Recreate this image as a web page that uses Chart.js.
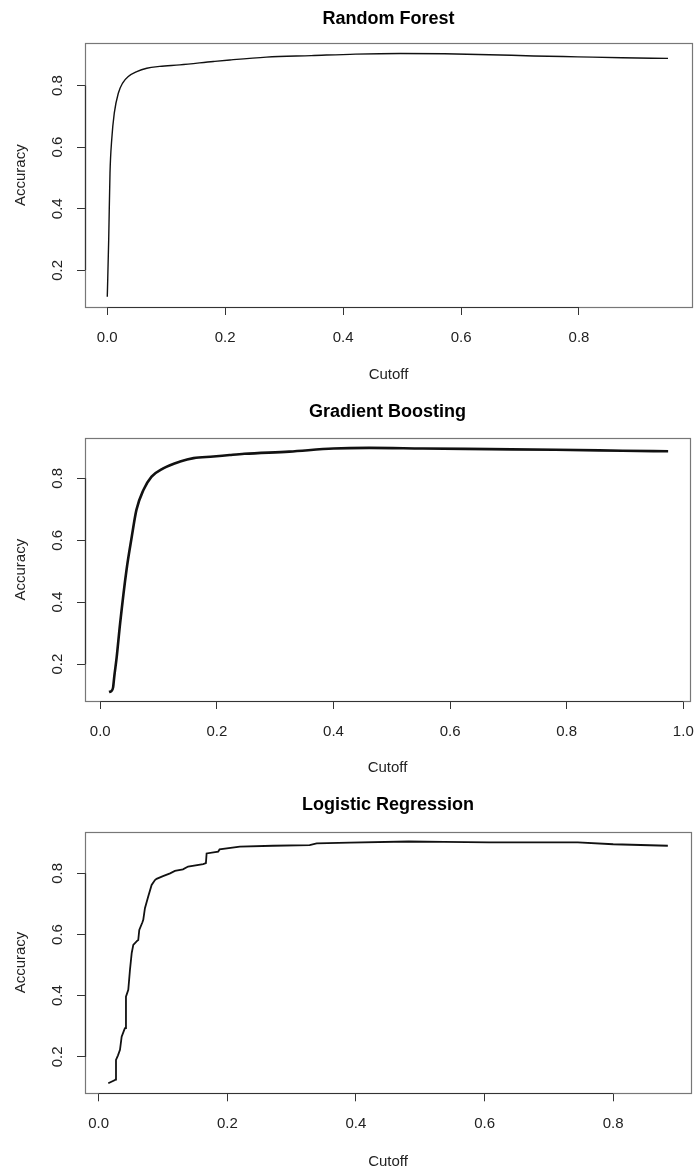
<!DOCTYPE html>
<html>
<head>
<meta charset="utf-8">
<script src="https://cdn.jsdelivr.net/npm/chart.js@4.4.1/dist/chart.umd.min.js"></script>
<style>
  body { margin: 0; background: #fff; }
  #wrap { position: relative; width: 698px; height: 1171px; }
  canvas { position: absolute; left: 0; }
</style>
</head>
<body>
<div id="wrap">
  <canvas id="rf" width="698" height="390" style="top:0px"></canvas>
  <canvas id="gb" width="698" height="390" style="top:390px"></canvas>
  <canvas id="lr" width="698" height="391" style="top:780px"></canvas>
</div>
<script>
// Random Forest
var rfCutoff   = [0.000, 0.0024, 0.0046, 0.0075, 0.0119, 0.0187, 0.026, 0.0356, 0.050, 0.067, 0.089, 0.123, 0.180, 0.208, 0.270, 0.346, 0.421, 0.497, 0.572, 0.648, 0.723, 0.798, 0.873, 0.951];
var rfAccuracy = [0.114, 0.300, 0.516, 0.624, 0.711, 0.775, 0.808, 0.829, 0.845, 0.856, 0.862, 0.867, 0.878, 0.883, 0.892, 0.897, 0.902, 0.904, 0.903, 0.900, 0.896, 0.893, 0.890, 0.888];

// Gradient Boosting
var gbCutoff   = [0.015, 0.019, 0.022, 0.024, 0.028, 0.034, 0.045, 0.054, 0.062, 0.074, 0.088, 0.108, 0.137, 0.160, 0.194, 0.222, 0.247, 0.324, 0.400, 0.461, 0.553, 0.667, 0.781, 0.896, 0.974];
var gbAccuracy = [0.110, 0.113, 0.125, 0.160, 0.220, 0.331, 0.504, 0.611, 0.698, 0.762, 0.805, 0.832, 0.854, 0.865, 0.870, 0.875, 0.879, 0.886, 0.896, 0.898, 0.896, 0.894, 0.892, 0.889, 0.887];

// Logistic Regression
var lrCutoff   = [0.0149, 0.0253, 0.0260, 0.0269, 0.0300, 0.0331, 0.0357, 0.0400, 0.0409, 0.0424, 0.0460, 0.0486, 0.0513, 0.0538, 0.0600, 0.0615, 0.0631, 0.0680, 0.0693, 0.0719, 0.0770, 0.0823, 0.0875, 0.0900, 0.1000, 0.1110, 0.1185, 0.1310, 0.1390, 0.1625, 0.1667, 0.1678, 0.1858, 0.1880, 0.2195, 0.2710, 0.3280, 0.3390, 0.3900, 0.4820, 0.5370, 0.6070, 0.6760, 0.7450, 0.8000, 0.8850];
var lrAccuracy = [0.114, 0.124, 0.126, 0.190, 0.205, 0.223, 0.266, 0.290, 0.294, 0.397, 0.419, 0.484, 0.539, 0.566, 0.580, 0.582, 0.615, 0.640, 0.648, 0.686, 0.724, 0.762, 0.778, 0.782, 0.791, 0.800, 0.808, 0.813, 0.822, 0.830, 0.833, 0.865, 0.871, 0.878, 0.887, 0.890, 0.892, 0.898, 0.900, 0.904, 0.903, 0.901, 0.901, 0.901, 0.895, 0.890];

// tick labels
var xTicksRF = [0.0, 0.2, 0.4, 0.6, 0.8];
var xTicksGB = [0.0, 0.2, 0.4, 0.6, 0.8, 1.0];
var xTicksLR = [0.0, 0.2, 0.4, 0.6, 0.8];
var yTicks   = [0.2, 0.4, 0.6, 0.8];

Chart.defaults.font.family = '"Liberation Sans", Arial, sans-serif';
Chart.defaults.color = '#222';

function toPoints(xs, ys) {
    return xs.map(function (x, i) { return { x: x, y: ys[i] }; });
}

// caixa do grafico + rotulos do eixo y (estilo R)
var rBox = {
    id: 'rBox',
    afterDraw: function (chart) {
        var ctx = chart.ctx, a = chart.chartArea;
        var sx = chart.scales.x, sy = chart.scales.y;
        var l = Math.round(a.left) + 0.5, t = Math.round(a.top) + 0.5;
        var r = Math.round(a.right) + 0.5, b = Math.round(a.bottom) + 0.5;
        ctx.save();
        ctx.strokeStyle = '#777';
        ctx.lineWidth = 1.2;
        ctx.strokeRect(l, t, r - l, b - t);
        // linhas dos eixos entre o primeiro e o ultimo tick
        ctx.strokeStyle = '#333';
        ctx.lineWidth = 1.2;
        var xt = sx.ticks, yt = sy.ticks;
        ctx.beginPath();
        ctx.moveTo(sx.getPixelForValue(xt[0].value), b);
        ctx.lineTo(sx.getPixelForValue(xt[xt.length - 1].value), b);
        ctx.moveTo(l, sy.getPixelForValue(yt[0].value));
        ctx.lineTo(l, sy.getPixelForValue(yt[yt.length - 1].value));
        ctx.stroke();
        // rotulos do eixo y rotacionados
        ctx.fillStyle = '#222';
        ctx.font = '15px "Liberation Sans", Arial, sans-serif';
        ctx.textAlign = 'center';
        ctx.textBaseline = 'middle';
        yt.forEach(function (tk) {
            ctx.save();
            ctx.translate(sx.left - 27, sy.getPixelForValue(tk.value));
            ctx.rotate(-Math.PI / 2);
            ctx.fillText(tk.value.toFixed(1), 0, 0);
            ctx.restore();
        });
        ctx.restore();
    }
};

function makeChart(id, p) {
    return new Chart(document.getElementById(id), {
        type: 'line',
        data: {
            datasets: [{
                data: toPoints(p.xs, p.ys),
                borderColor: '#111',
                borderWidth: p.lineWidth,
                pointRadius: 0,
                tension: 0,
                cubicInterpolationMode: p.smooth ? 'monotone' : 'default',
                fill: false
            }]
        },
        options: {
            responsive: false,
            animation: false,
            layout: { padding: { left: 0, right: p.padRight, top: 0, bottom: 0 } },
            plugins: {
                legend: { display: false },
                tooltip: { enabled: false },
                title: {
                    display: true,
                    text: p.title,
                    fullSize: false,
                    color: '#000',
                    font: { size: 18, weight: 'bold' },
                    padding: { top: p.titleTop, bottom: p.titleBottom }
                }
            },
            scales: {
                x: {
                    type: 'linear',
                    position: 'bottom',
                    min: p.xMin,
                    max: p.xMax,
                    afterBuildTicks: function (s) { s.ticks = p.xTicks.map(function (v) { return { value: v }; }); },
                    afterFit: function (s) { s.height = p.xHeight; s.paddingLeft = 0; s.paddingRight = 0; },
                    grid: { drawOnChartArea: false, drawTicks: true, tickLength: 8, color: '#333' },
                    border: { display: false },
                    ticks: {
                        padding: p.xTickPad,
                        maxRotation: 0,
                        font: { size: 15 },
                        color: '#222',
                        callback: function (v) { return Number(v).toFixed(1); }
                    },
                    title: { display: true, text: 'Cutoff', font: { size: 15 }, color: '#222', padding: { top: 0, bottom: p.xTitlePad } }
                },
                y: {
                    type: 'linear',
                    min: p.yMin,
                    max: p.yMax,
                    afterBuildTicks: function (s) { s.ticks = yTicks.map(function (v) { return { value: v }; }); },
                    afterFit: function (s) { s.width = 85; },
                    grid: { drawOnChartArea: false, drawTicks: true, tickLength: 8, color: '#333' },
                    border: { display: false },
                    ticks: { display: false },
                    title: { display: true, text: 'Accuracy', font: { size: 15 }, color: '#222', padding: { top: 12, bottom: 0 } }
                }
            }
        },
        plugins: [rBox]
    });
}

makeChart('rf', {
    title: 'Random Forest', xs: rfCutoff, ys: rfAccuracy, xTicks: xTicksRF,
    xMin: -0.0378, xMax: 0.9917, yMin: 0.081, yMax: 0.937,
    lineWidth: 1.4, smooth: true, padRight: 6,
    titleTop: 8.4, titleBottom: 13.3, xHeight: 83, xTickPad: 13.4, xTitlePad: 6
});
makeChart('gb', {
    title: 'Gradient Boosting', xs: gbCutoff, ys: gbAccuracy, xTicks: xTicksGB,
    xMin: -0.0262, xMax: 1.0115, yMin: 0.081, yMax: 0.929,
    lineWidth: 2.6, smooth: true, padRight: 8,
    titleTop: 11.1, titleBottom: 15.6, xHeight: 79, xTickPad: 13.5, xTitlePad: 3.6
});
makeChart('lr', {
    title: 'Logistic Regression', xs: lrCutoff, ys: lrAccuracy, xTicks: xTicksLR,
    xMin: -0.0213, xMax: 0.921, yMin: 0.081, yMax: 0.936,
    lineWidth: 1.8, smooth: false, padRight: 7,
    titleTop: 14.1, titleBottom: 16, xHeight: 77.7, xTickPad: 13.7, xTitlePad: 0.5
});
</script>
</body>
</html>
